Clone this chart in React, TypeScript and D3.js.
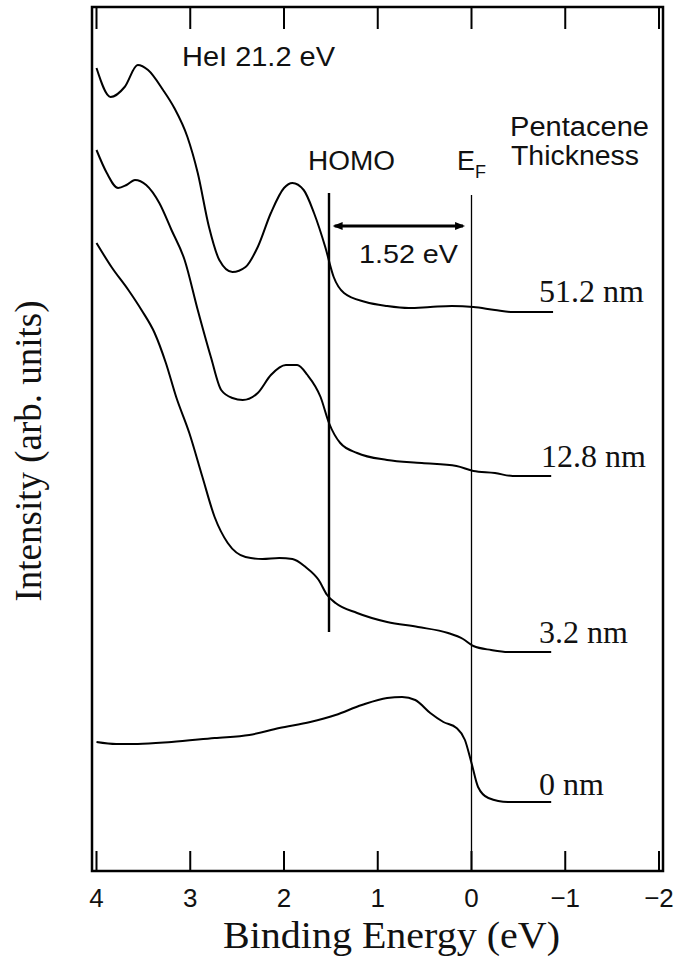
import React from "react";
import * as d3 from "d3";

// ---- data (binding energy in eV, intensity in arbitrary units) ----
const energy512 = [4.0, 3.85, 3.7, 3.56, 3.45, 3.29, 3.17, 3.03, 2.92, 2.8, 2.69, 2.55, 2.41, 2.28, 2.14, 2.0, 1.91, 1.79, 1.68, 1.56, 1.47, 1.36, 1.13, 0.9, 0.67, 0.44, 0.21, -0.02, -0.25, -0.44, -0.87];
const intensity512 = [803, 774, 784, 806, 801, 781, 763, 734, 698, 644, 611, 599, 604, 624, 658, 683, 688, 681, 658, 624, 594, 578, 569, 565, 563, 564, 565, 564, 561, 559, 559];

const energy128 = [4.0, 3.89, 3.77, 3.68, 3.59, 3.47, 3.33, 3.2, 3.06, 2.92, 2.78, 2.67, 2.55, 2.44, 2.28, 2.14, 1.98, 1.86, 1.75, 1.61, 1.52, 1.4, 1.22, 0.9, 0.53, 0.16, -0.02, -0.25, -0.44, -0.85];
const intensity128 = [721, 698, 683, 686, 691, 686, 668, 641, 611, 561, 514, 481, 473, 471, 478, 496, 506, 506, 496, 474, 448, 428, 418, 411, 408, 405, 400, 398, 395, 395];

const energy32 = [4.0, 3.84, 3.66, 3.52, 3.38, 3.26, 3.15, 3.01, 2.87, 2.74, 2.6, 2.41, 2.23, 2.05, 1.91, 1.77, 1.63, 1.54, 1.45, 1.22, 0.9, 0.57, 0.25, 0.09, -0.02, -0.21, -0.39, -0.85];
const intensity32 = [628, 604, 581, 561, 538, 508, 474, 438, 394, 354, 328, 314, 312, 313, 312, 304, 291, 276, 268, 258, 249, 244, 238, 232, 225, 221, 219, 219];

const energy0 = [4.0, 3.79, 3.56, 3.2, 2.74, 2.37, 2.05, 1.72, 1.45, 1.17, 0.9, 0.74, 0.6, 0.44, 0.3, 0.16, 0.07, 0.0, -0.07, -0.18, -0.39, -0.85];
const intensity0 = [129, 127, 127, 129, 133, 136, 143, 149, 156, 166, 173, 174, 171, 158, 149, 143, 131, 108, 84, 73, 69, 69];

const seriesLabels = ["51.2 nm", "12.8 nm", "3.2 nm", "0 nm"];
const xTicks = [4, 3, 2, 1, 0, -1, -2];
const homoEnergy = 1.52;
const fermiEnergy = 0;

const W = 677;
const H = 957;
const frame = { left: 92, right: 663, top: 7, bottom: 871 };

export default function App() {
  const x = d3.scaleLinear().domain([4, -2]).range([96.5, 659]);
  const y = d3.scaleLinear().domain([0, 864]).range([frame.bottom, frame.top]);

  const series = [
    { e: energy512, v: intensity512 },
    { e: energy128, v: intensity128 },
    { e: energy32, v: intensity32 },
    { e: energy0, v: intensity0 },
  ];

  const line = d3
    .line<[number, number]>()
    .x((d) => x(d[0]))
    .y((d) => y(d[1]))
    .curve(d3.curveMonotoneX);

  const labelPos = [
    { x: 539, y: 302 },
    { x: 541, y: 467 },
    { x: 539, y: 643 },
    { x: 539, y: 795 },
  ];

  const sans = "'Liberation Sans', Arial, sans-serif";
  const serif = "'Liberation Serif', 'Times New Roman', serif";

  const arrowY = 226;
  const ax1 = x(homoEnergy - 0.06);
  const ax2 = x(fermiEnergy + 0.09);

  return (
    <svg width={W} height={H} style={{ position: "absolute", left: 0, top: 0, background: "#fff" }}>
      <rect x={0} y={0} width={W} height={H} fill="#fff" />
      {/* frame */}
      <rect
        x={frame.left}
        y={frame.top}
        width={frame.right - frame.left}
        height={frame.bottom - frame.top}
        fill="none"
        stroke="#000"
        strokeWidth={2.5}
      />
      {/* ticks */}
      {xTicks.map((t) => (
        <g key={t}>
          <line x1={x(t)} x2={x(t)} y1={frame.bottom} y2={frame.bottom - 20} stroke="#000" strokeWidth={2} />
          <line x1={x(t)} x2={x(t)} y1={frame.top} y2={frame.top + 22} stroke="#000" strokeWidth={2} />
          <text
            x={x(t)}
            y={907}
            textAnchor="middle"
            fontFamily={sans}
            fontSize={26}
            fill="#111"
          >
            {t < 0 ? "\u2212" + Math.abs(t) : String(t)}
          </text>
        </g>
      ))}
      {/* E_F line */}
      <line x1={x(fermiEnergy)} x2={x(fermiEnergy)} y1={195} y2={frame.bottom} stroke="#000" strokeWidth={1.3} />
      {/* HOMO line */}
      <line x1={x(homoEnergy)} x2={x(homoEnergy)} y1={193} y2={632} stroke="#000" strokeWidth={2.4} />
      {/* arrow */}
      <line x1={ax1} x2={ax2} y1={arrowY} y2={arrowY} stroke="#000" strokeWidth={3} />
      <path d={`M${ax1 - 2},${arrowY} L${ax1 + 8},${arrowY - 4} L${ax1 + 8},${arrowY + 4} Z`} fill="#000" />
      <path d={`M${ax2 + 2},${arrowY} L${ax2 - 8},${arrowY - 4} L${ax2 - 8},${arrowY + 4} Z`} fill="#000" />

      {/* curves */}
      {series.map((s, i) => {
        const pts = s.e.map((e, j) => [e, s.v[j]] as [number, number]);
        return <path key={i} d={line(pts) || ""} fill="none" stroke="#000" strokeWidth={2} strokeLinejoin="round" />;
      })}

      {/* series labels */}
      {seriesLabels.map((l, i) => (
        <text key={l} x={labelPos[i].x} y={labelPos[i].y} fontFamily={serif} fontSize={32} fill="#111">
          {l}
        </text>
      ))}

      {/* annotations */}
      <text x={182} y={66} fontFamily={sans} fontSize={27} fill="#111" textLength={153} lengthAdjust="spacingAndGlyphs">
        HeI 21.2 eV
      </text>
      <text x={308} y={170} fontFamily={sans} fontSize={27} fill="#111" textLength={87} lengthAdjust="spacingAndGlyphs">
        HOMO
      </text>
      <text x={457} y={170} fontFamily={sans} fontSize={27} fill="#111">
        E<tspan dy={8} fontSize={18}>F</tspan>
      </text>
      <text x={510} y={136} fontFamily={sans} fontSize={27} fill="#111" textLength={139} lengthAdjust="spacingAndGlyphs">
        Pentacene
      </text>
      <text x={511} y={165} fontFamily={sans} fontSize={27} fill="#111" textLength={128} lengthAdjust="spacingAndGlyphs">
        Thickness
      </text>
      <text x={359} y={263} fontFamily={sans} fontSize={26} fill="#111" textLength={99} lengthAdjust="spacingAndGlyphs">
        1.52 eV
      </text>

      {/* axis titles */}
      <text x={223} y={948} fontFamily={serif} fontSize={38} fill="#111" textLength={337} lengthAdjust="spacingAndGlyphs">
        Binding Energy (eV)
      </text>
      <text
        transform="translate(41,451) rotate(-90)"
        textAnchor="middle"
        fontFamily={serif}
        fontSize={37}
        fill="#111"
      >
        Intensity (arb. units)
      </text>
    </svg>
  );
}
